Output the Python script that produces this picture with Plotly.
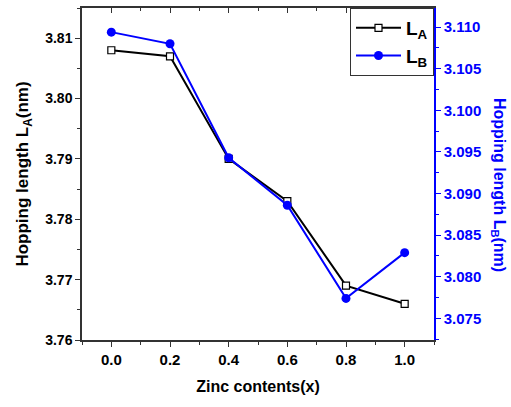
import plotly.graph_objects as go

zinc = [0.0, 0.2, 0.4, 0.6, 0.8, 1.0]
LA = [3.808, 3.807, 3.790, 3.783, 3.769, 3.766]
LB = [3.1094, 3.1080, 3.0943, 3.0886, 3.0774, 3.0829]

FONT = "Liberation Sans"
BLUE = "#0000FF"
AX = "#333333"

fig = go.Figure()
fig.add_trace(go.Scatter(
    x=zinc, y=LA, mode="lines+markers", name="L<sub>A</sub>",
    line=dict(color="black", width=2),
    marker=dict(symbol="square", size=7, color="white", line=dict(width=1.2, color="black")),
    yaxis="y"))
fig.add_trace(go.Scatter(
    x=zinc, y=LB, mode="lines+markers", name="L<sub>B</sub>",
    line=dict(color=BLUE, width=2),
    marker=dict(symbol="circle", size=9, color=BLUE),
    yaxis="y2"))
# dummy trace to activate the mirrored top axis
fig.add_trace(go.Scatter(x=[None], y=[None], xaxis="x2", yaxis="y", showlegend=False))

fig.update_layout(
    width=511, height=407,
    margin=dict(l=82, r=77, t=8, b=67),
    paper_bgcolor="white", plot_bgcolor="white",
    showlegend=True,
    legend=dict(x=1, y=1, xanchor="right", yanchor="top", itemwidth=45,
                bordercolor=AX, borderwidth=1, bgcolor="white",
                font=dict(family=FONT, size=19, color="black", weight="bold")),
    xaxis=dict(range=[-0.1, 1.1], dtick=0.2, tick0=0, tickformat=".1f",
               showline=True, linecolor=AX, linewidth=1.5,
               ticks="outside", ticklen=5, tickcolor=AX,
               minor=dict(ticks="outside", ticklen=3, dtick=0.1, tickcolor=AX),
               showgrid=False, zeroline=False,
               tickfont=dict(family=FONT, size=15, color="black", weight="bold"),
               title=dict(text="Zinc contents(x)",
                          font=dict(family=FONT, size=16, color="black", weight="bold"),
                          standoff=14)),
    xaxis2=dict(range=[-0.1, 1.1], dtick=0.2, tick0=0, overlaying="x", side="top",
                showline=True, linecolor=AX, linewidth=1.5,
                ticks="inside", ticklen=5, tickcolor=AX,
                minor=dict(ticks="inside", ticklen=3, dtick=0.1, tickcolor=AX),
                showticklabels=False, showgrid=False, zeroline=False),
    yaxis=dict(range=[3.76, 3.815], dtick=0.01, tick0=3.76, tickformat=".2f",
               showline=True, linecolor=AX, linewidth=1.5,
               ticks="outside", ticklen=5, tickcolor=AX,
               minor=dict(ticks="outside", ticklen=3, dtick=0.005, tickcolor=AX),
               showgrid=False, zeroline=False,
               tickfont=dict(family=FONT, size=14, color="black", weight="bold"),
               title=dict(text="Hopping length L<sub>A</sub>(nm)",
                          font=dict(family=FONT, size=17, color="black", weight="bold"),
                          standoff=12)),
    yaxis2=dict(range=[3.0724, 3.1123], dtick=0.005, tick0=3.075, tickformat=".3f",
                overlaying="y", side="right", anchor="x",
                showline=True, linecolor=BLUE, linewidth=1.5,
                ticks="outside", ticklen=5, tickcolor=BLUE,
                minor=dict(ticks="outside", ticklen=3, dtick=0.0025, tickcolor=BLUE),
                showgrid=False, zeroline=False,
                tickfont=dict(family=FONT, size=15, color=BLUE, weight="bold")),
)

fig.add_annotation(
    text="Hopping length L<sub>B</sub>(nm)",
    xref="paper", yref="paper", x=1.182, y=0.467, textangle=90,
    xanchor="center", yanchor="middle",
    showarrow=False, font=dict(family=FONT, size=16, color=BLUE, weight="bold"))

fig.write_html("out.html")
